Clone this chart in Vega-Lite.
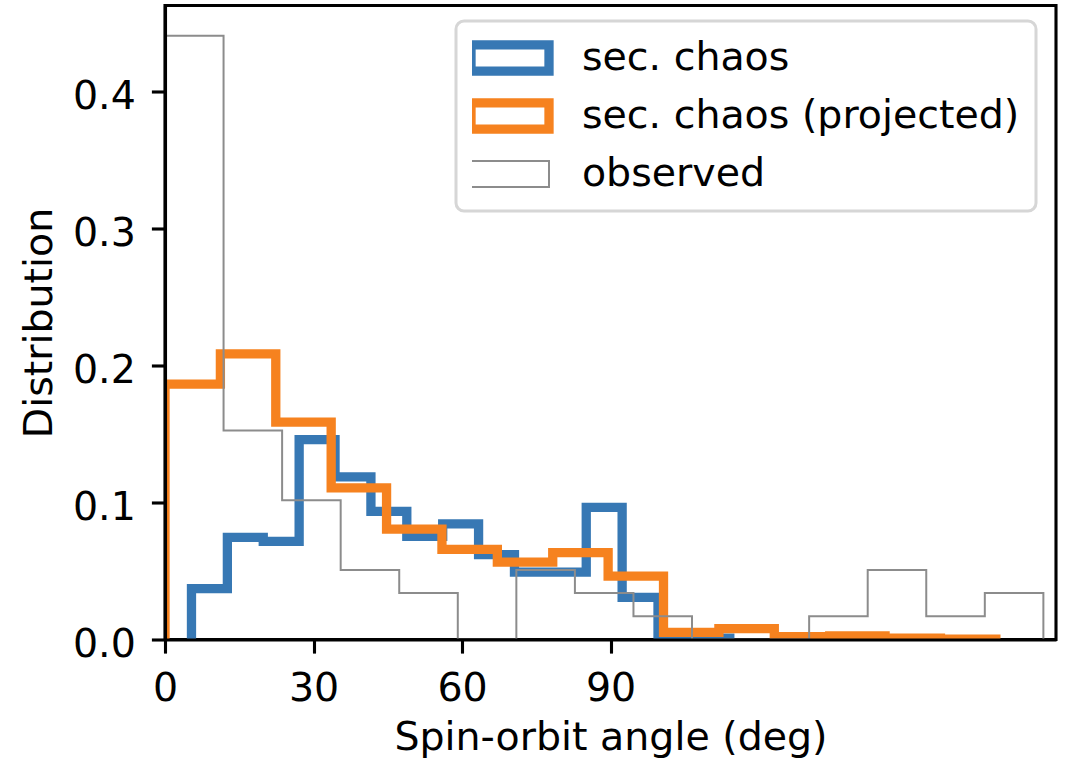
{
  "$schema": "https://vega.github.io/schema/vega-lite/v6.json",
  "width": 891,
  "height": 634,
  "autosize": {"type": "none"},
  "padding": {"left": 165, "top": 5.5, "right": 10, "bottom": 120.5},
  "background": "white",
  "datasets": {
    "hist": [
      {"s": "sec. chaos", "i": 0, "angle": 5.35, "frac": 0},
      {"s": "sec. chaos", "i": 1, "angle": 5.35, "frac": 0.0372},
      {"s": "sec. chaos", "i": 2, "angle": 12.6, "frac": 0.0745},
      {"s": "sec. chaos", "i": 3, "angle": 19.85, "frac": 0.0716},
      {"s": "sec. chaos", "i": 4, "angle": 27.1, "frac": 0.1458},
      {"s": "sec. chaos", "i": 5, "angle": 34.35, "frac": 0.1187},
      {"s": "sec. chaos", "i": 6, "angle": 41.6, "frac": 0.0935},
      {"s": "sec. chaos", "i": 7, "angle": 48.85, "frac": 0.0753},
      {"s": "sec. chaos", "i": 8, "angle": 56.1, "frac": 0.0844},
      {"s": "sec. chaos", "i": 9, "angle": 63.35, "frac": 0.0620},
      {"s": "sec. chaos", "i": 10, "angle": 70.6, "frac": 0.0491},
      {"s": "sec. chaos", "i": 11, "angle": 77.85, "frac": 0.0491},
      {"s": "sec. chaos", "i": 12, "angle": 85.1, "frac": 0.0964},
      {"s": "sec. chaos", "i": 13, "angle": 92.35, "frac": 0.0307},
      {"s": "sec. chaos", "i": 14, "angle": 99.6, "frac": 0},
      {"s": "sec. chaos", "i": 15, "angle": 106.85, "frac": 0.0010},
      {"s": "sec. chaos", "i": 16, "angle": 114.1, "frac": 0.0010},
      {"s": "sec. chaos", "i": 17, "angle": 114.1, "frac": 0},
      {"s": "sec. chaos (projected)", "i": 0, "angle": 0, "frac": 0},
      {"s": "sec. chaos (projected)", "i": 1, "angle": 0, "frac": 0.1864},
      {"s": "sec. chaos (projected)", "i": 2, "angle": 11.19, "frac": 0.2085},
      {"s": "sec. chaos (projected)", "i": 3, "angle": 22.38, "frac": 0.1586},
      {"s": "sec. chaos (projected)", "i": 4, "angle": 33.57, "frac": 0.1106},
      {"s": "sec. chaos (projected)", "i": 5, "angle": 44.76, "frac": 0.0806},
      {"s": "sec. chaos (projected)", "i": 6, "angle": 55.95, "frac": 0.0658},
      {"s": "sec. chaos (projected)", "i": 7, "angle": 67.14, "frac": 0.0564},
      {"s": "sec. chaos (projected)", "i": 8, "angle": 78.33, "frac": 0.0634},
      {"s": "sec. chaos (projected)", "i": 9, "angle": 89.52, "frac": 0.0462},
      {"s": "sec. chaos (projected)", "i": 10, "angle": 100.71, "frac": 0.0052},
      {"s": "sec. chaos (projected)", "i": 11, "angle": 111.9, "frac": 0.0079},
      {"s": "sec. chaos (projected)", "i": 12, "angle": 123.09, "frac": 0.0020},
      {"s": "sec. chaos (projected)", "i": 13, "angle": 134.28, "frac": 0.0026},
      {"s": "sec. chaos (projected)", "i": 14, "angle": 145.47, "frac": 0.0009},
      {"s": "sec. chaos (projected)", "i": 15, "angle": 156.66, "frac": 0.0003},
      {"s": "sec. chaos (projected)", "i": 16, "angle": 167.85, "frac": 0.0003},
      {"s": "sec. chaos (projected)", "i": 17, "angle": 167.85, "frac": 0},
      {"s": "observed", "i": 0, "angle": 0, "frac": 0},
      {"s": "observed", "i": 1, "angle": 0, "frac": 0.4407},
      {"s": "observed", "i": 2, "angle": 11.83, "frac": 0.1525},
      {"s": "observed", "i": 3, "angle": 23.66, "frac": 0.1017},
      {"s": "observed", "i": 4, "angle": 35.49, "frac": 0.0508},
      {"s": "observed", "i": 5, "angle": 47.32, "frac": 0.0339},
      {"s": "observed", "i": 6, "angle": 59.15, "frac": 0},
      {"s": "observed", "i": 7, "angle": 70.98, "frac": 0.0508},
      {"s": "observed", "i": 8, "angle": 82.81, "frac": 0.0339},
      {"s": "observed", "i": 9, "angle": 94.64, "frac": 0.0169},
      {"s": "observed", "i": 10, "angle": 106.47, "frac": 0},
      {"s": "observed", "i": 11, "angle": 118.3, "frac": 0},
      {"s": "observed", "i": 12, "angle": 130.13, "frac": 0.0169},
      {"s": "observed", "i": 13, "angle": 141.96, "frac": 0.0508},
      {"s": "observed", "i": 14, "angle": 153.79, "frac": 0.0169},
      {"s": "observed", "i": 15, "angle": 165.62, "frac": 0.0339},
      {"s": "observed", "i": 16, "angle": 177.45, "frac": 0.0339},
      {"s": "observed", "i": 17, "angle": 177.45, "frac": 0}
    ]
  },
  "data": {"name": "hist"},
  "encoding": {
    "x": {
      "field": "angle", "type": "quantitative",
      "scale": {"domain": [0, 180], "nice": false, "zero": false},
      "axis": {
        "values": [0, 30, 60, 90], "title": "Spin-orbit angle (deg)", "grid": false,
        "domainColor": "black", "domainWidth": 3.1, "tickColor": "black", "tickWidth": 3.1, "tickSize": 13.6,
        "labelFontSize": 39.5, "labelColor": "black", "labelBaseline": "alphabetic", "labelPadding": 47,
        "labelFlush": false, "labelOverlap": false,
        "titleFontSize": 39.5, "titleFontWeight": "normal", "titleColor": "black",
        "titleX": 445.5, "titleY": 110, "titleBaseline": "alphabetic", "titleAlign": "center", "zindex": 1
      }
    },
    "y": {
      "field": "frac", "type": "quantitative",
      "scale": {"domain": [0, 0.4627], "nice": false, "zero": true},
      "axis": {
        "values": [0, 0.1, 0.2, 0.3, 0.4], "format": ".1f", "title": "Distribution", "grid": false,
        "domainColor": "black", "domainWidth": 3.1, "tickColor": "black", "tickWidth": 3.1, "tickSize": 13.6,
        "labelFontSize": 39.5, "labelColor": "black", "labelAlign": "right", "labelBaseline": "alphabetic",
        "labelOffset": 16.6, "labelPadding": 16.1, "labelFlush": false, "labelOverlap": false,
        "titleFontSize": 39.5, "titleFontWeight": "normal", "titleColor": "black", "titleAngle": -90,
        "titleX": -113.3, "titleY": 317, "titleBaseline": "alphabetic", "titleAlign": "center", "zindex": 1
      }
    },
    "color": {
      "field": "s", "type": "nominal",
      "scale": {"domain": ["sec. chaos", "sec. chaos (projected)", "observed"], "range": ["#3778b4", "#f6821f", "#8c8c8c"]},
      "legend": {
        "title": null, "orient": "none", "legendX": 291, "legendY": 15.5, "padding": 16,
        "fillColor": "white", "strokeColor": "#d6d6d6", "cornerRadius": 8,
        "labelFontSize": 39.5, "labelColor": "black", "labelFont": "DejaVu Sans", "labelLimit": 800,
        "clipHeight": 42, "rowPadding": 16, "symbolType": "M-2.69,-0.9H2.69V0.9H-2.69Z", "symbolSize": 841,
        "symbolOffset": 18.25, "labelOffset": 52.2, "symbolStrokeWidth": 9.3, "symbolFillColor": "transparent",
        "encode": {
          "legend": {"update": {"strokeWidth": {"value": 3}}},
          "symbols": {"update": {"strokeWidth": {"signal": "datum.value === 'observed' ? 2 : 9.3"}, "fill": {"value": "transparent"}, "opacity": {"value": 1}}}
        }
      }
    },
    "order": {"field": "i", "type": "quantitative"}
  },
  "layer": [
    {"transform": [{"filter": "datum.s === 'sec. chaos'"}],
     "mark": {"type": "line", "interpolate": "step-after", "strokeWidth": 9.3, "clip": true, "strokeJoin": "miter", "strokeCap": "butt"}},
    {"transform": [{"filter": "datum.s === 'sec. chaos (projected)'"}],
     "mark": {"type": "line", "interpolate": "step-after", "strokeWidth": 9.3, "clip": true, "strokeJoin": "miter", "strokeCap": "butt"}},
    {"transform": [{"filter": "datum.s === 'observed'"}],
     "mark": {"type": "line", "interpolate": "step-after", "strokeWidth": 2, "clip": true, "strokeJoin": "miter", "strokeCap": "butt"}}
  ],
  "config": {
    "font": "DejaVu Sans",
    "view": {"stroke": "black", "strokeWidth": 3.1}
  }
}
